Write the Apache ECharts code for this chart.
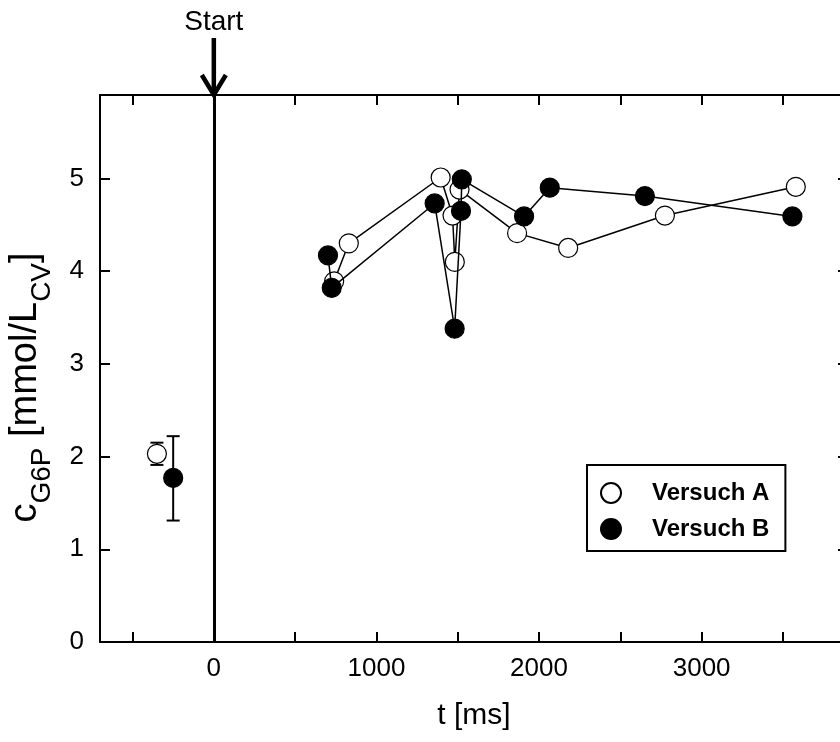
<!DOCTYPE html>
<html>
<head>
<meta charset="utf-8">
<script src="https://cdn.jsdelivr.net/npm/echarts@6/dist/echarts.min.js"></script>
<style>html,body{margin:0;padding:0;background:#fff;}#c{width:840px;height:742px;}</style>
</head>
<body>
<div id="c"></div>
<script>
// Versuch A (open circles), time in ms and concentration in mmol/L_CV
const tA = [740, 830, 1395, 1468, 1482, 1511, 1865, 2179, 2774, 3579];
const vA = [3.89, 4.30, 5.01, 4.60, 4.10, 4.88, 4.41, 4.25, 4.60, 4.91];
// Versuch B (filled circles)
const tB = [702, 725, 1358, 1481, 1520, 1525, 1908, 2066, 2651, 3558];
const vB = [4.17, 3.82, 4.73, 3.38, 4.65, 4.99, 4.59, 4.90, 4.81, 4.59];
// pre-start values with error bars: [t, mean, low, high]
const preA = [-350, 2.03, 1.91, 2.15];
const preB = [-250, 1.77, 1.31, 2.22];
// axis ticks
const xTicks = [-500, 0, 500, 1000, 1500, 2000, 2500, 3000, 3500];
const xLabels = [0, 1000, 2000, 3000];
const yTicks = [0, 1, 2, 3, 4, 5];
const xMin = -700, xMax = 3900, yMin = 0, yMax = 5.9;

const FONT = 'Liberation Sans, Arial, sans-serif';
const chart = echarts.init(document.getElementById('c'), null, {renderer: 'canvas'});

const pairs = (ts, vs) => ts.map((t, i) => [t, vs[i]]);

const axisLineStyle = {color: '#000', width: 2};
const tickStyle = {show: true, inside: true, length: 10, lineStyle: {color: '#000', width: 2}};
const plain = v => String(v);

const option = {
  backgroundColor: '#fff',
  animation: false,
  grid: {left: 100, top: 95, width: 748, height: 547, containLabel: false, outerBoundsMode: 'none'},
  xAxis: [
    {
      type: 'value', min: xMin, max: xMax, position: 'bottom',
      axisLine: {show: true, onZero: false, lineStyle: axisLineStyle},
      axisTick: Object.assign({customValues: xTicks}, tickStyle),
      axisLabel: {customValues: xLabels, formatter: plain, color: '#000', fontSize: 26, fontFamily: FONT, margin: 14},
      splitLine: {show: false},
      name: 't [ms]', nameLocation: 'middle', nameGap: 59,
      nameTextStyle: {color: '#000', fontSize: 30, fontFamily: FONT}
    },
    {
      type: 'value', min: xMin, max: xMax, position: 'top',
      axisLine: {show: true, onZero: false, lineStyle: axisLineStyle},
      axisTick: Object.assign({customValues: xTicks}, tickStyle),
      axisLabel: {show: false}, splitLine: {show: false}
    }
  ],
  yAxis: [
    {
      type: 'value', min: yMin, max: yMax, position: 'left',
      axisLine: {show: true, onZero: false, lineStyle: axisLineStyle},
      axisTick: Object.assign({customValues: yTicks}, tickStyle),
      axisLabel: {customValues: yTicks, formatter: plain, color: '#000', fontSize: 26, fontFamily: FONT, margin: 16},
      splitLine: {show: false}
    },
    {
      type: 'value', min: yMin, max: yMax, position: 'right',
      axisLine: {show: true, onZero: false, lineStyle: axisLineStyle},
      axisTick: Object.assign({customValues: yTicks}, tickStyle),
      axisLabel: {show: false}, splitLine: {show: false}
    }
  ],
  legend: {
    data: [{name: 'Versuch A', icon: 'circle'}, {name: 'Versuch B', icon: 'circle'}],
    orient: 'vertical', left: 587, top: 465,
    borderColor: '#000', borderWidth: 2, borderRadius: 0,
    padding: [16, 16, 10, 13],
    itemWidth: 20, itemHeight: 20, itemGap: 12,
    textStyle: {color: '#000', fontSize: 24, fontWeight: 'bold', fontFamily: FONT, padding: [0, 0, 0, 26]},
    selectedMode: false
  },
  series: [
    {
      type: 'custom', name: 'err', z: 2,
      data: [preA, preB],
      renderItem: function (params, api) {
        const p = api.coord([api.value(0), api.value(2)]);
        const q = api.coord([api.value(0), api.value(3)]);
        const hw = 6.5;
        const st = {stroke: '#000', lineWidth: 2};
        return {type: 'group', children: [
          {type: 'line', shape: {x1: p[0], y1: p[1], x2: q[0], y2: q[1]}, style: st},
          {type: 'line', shape: {x1: p[0] - hw, y1: p[1], x2: p[0] + hw, y2: p[1]}, style: st},
          {type: 'line', shape: {x1: q[0] - hw, y1: q[1], x2: q[0] + hw, y2: q[1]}, style: st}
        ]};
      },
      encode: {x: 0, y: 1}
    },
    {
      type: 'line', name: 'Versuch A', data: pairs(tA, vA), z: 4,
      symbol: 'circle', symbolSize: 19,
      itemStyle: {color: '#fff', borderColor: '#000', borderWidth: 1.2, opacity: 1},
      lineStyle: {color: '#000', width: 1.5},
      markLine: {
        silent: true, symbol: ['none', 'none'], label: {show: false},
        lineStyle: {color: '#000', width: 3, type: 'solid'},
        data: [{xAxis: 0}]
      }
    },
    {
      type: 'line', name: 'Versuch B', data: pairs(tB, vB), z: 5,
      symbol: 'circle', symbolSize: 19,
      itemStyle: {color: '#000', borderColor: '#000', borderWidth: 1.2, opacity: 1},
      lineStyle: {color: '#000', width: 1.5}
    },
    {
      type: 'scatter', name: 'Versuch A', data: [[preA[0], preA[1]]], z: 6,
      symbol: 'circle', symbolSize: 19,
      itemStyle: {color: '#fff', borderColor: '#000', borderWidth: 1.2, opacity: 1}
    },
    {
      type: 'scatter', name: 'Versuch B', data: [[preB[0], preB[1]]], z: 6,
      symbol: 'circle', symbolSize: 19,
      itemStyle: {color: '#000', borderColor: '#000', borderWidth: 1.2, opacity: 1}
    }
  ]
};
chart.setOption(option);

// annotation: "Start" arrow above t = 0, and y-axis title with subscripts
const x0 = chart.convertToPixel({xAxisIndex: 0}, 0);
const yTop = chart.convertToPixel({yAxisIndex: 0}, yMax);
const yBot = chart.convertToPixel({yAxisIndex: 0}, yMin);
chart.setOption({
  graphic: [
    {type: 'line', shape: {x1: x0, y1: 38, x2: x0, y2: yTop - 3}, style: {stroke: '#000', lineWidth: 4.5}},
    {type: 'polyline', shape: {points: [[x0 - 12, yTop - 20], [x0, yTop], [x0 + 12, yTop - 20]]},
      style: {stroke: '#000', lineWidth: 4.5, fill: null, lineJoin: 'miter'}},
    {type: 'text', x: x0, y: 22, style: {text: 'Start', fontSize: 28, fontFamily: FONT, fill: '#000', align: 'center', verticalAlign: 'middle'}},
    {type: 'text', x: 28, y: (yTop + yBot) / 2 + 19, rotation: Math.PI / 2,
      style: {
        text: '{c|c}{s|G6P}{c| [mmol/L}{s|CV}{c|]}',
        align: 'center', verticalAlign: 'middle', fill: '#000', fontFamily: FONT,
        rich: {
          c: {fontSize: 38, lineHeight: 42, verticalAlign: 'top', fontFamily: FONT, fill: '#000'},
          s: {fontSize: 28, lineHeight: 28, verticalAlign: 'top', padding: [21, 0, 0, 0], fontFamily: FONT, fill: '#000'}
        }
      }
    }
  ]
});
</script>
</body>
</html>
